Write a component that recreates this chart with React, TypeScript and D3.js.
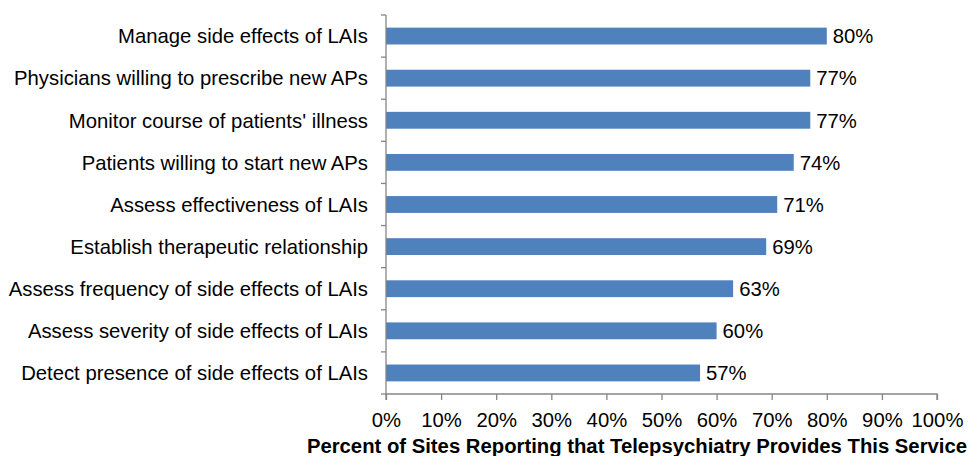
import React from "react";
import * as d3 from "d3";

const categories = [
  "Manage side effects of LAIs",
  "Physicians willing to prescribe new APs",
  "Monitor course of patients' illness",
  "Patients willing to start new APs",
  "Assess effectiveness of LAIs",
  "Establish therapeutic relationship",
  "Assess frequency of side effects of LAIs",
  "Assess severity of side effects of LAIs",
  "Detect presence of side effects of LAIs",
];
const values = [80, 77, 77, 74, 71, 69, 63, 60, 57];
const xTicks = [0, 10, 20, 30, 40, 50, 60, 70, 80, 90, 100];
const axisTitle = "Percent of Sites Reporting that Telepsychiatry Provides This Service";

export default function App() {
  const width = 969;
  const height = 456;
  const left = 386;
  const right = 937;
  const top = 15;
  const bottom = 394;
  const font = "Arial, 'Liberation Sans', sans-serif";
  const fs = "20.3px";
  const axisColor = "#868686";

  const svgRef = React.useRef<SVGSVGElement>(null);

  React.useEffect(() => {
    const svg = d3.select(svgRef.current);
    svg.selectAll("*").remove();

    const x = d3.scaleLinear().domain([0, 100]).range([left, right]);
    const y = d3.scaleBand().domain(categories).range([top, bottom]).paddingInner(0.6).paddingOuter(0.3);
    const band = d3.scaleBand().domain(categories).range([top, bottom]);

    // bars
    svg
      .selectAll(".bar")
      .data(values)
      .join("rect")
      .attr("class", "bar")
      .attr("x", x(0))
      .attr("y", (d, i) => y(categories[i])!)
      .attr("width", (d) => x(d) - x(0))
      .attr("height", y.bandwidth())
      .attr("fill", "#4F81BD");

    // value labels
    svg
      .selectAll(".val")
      .data(values)
      .join("text")
      .attr("x", (d) => x(d) + 6)
      .attr("y", (d, i) => y(categories[i])! + y.bandwidth() / 2)
      .attr("dy", "0.36em")
      .style("font-family", font)
      .style("font-size", fs)
      .attr("fill", "#000")
      .text((d) => d + "%");

    // y axis
    const yAxis = svg.append("g");
    yAxis
      .append("line")
      .attr("x1", left)
      .attr("x2", left)
      .attr("y1", top)
      .attr("y2", bottom)
      .attr("stroke", axisColor)
      .attr("stroke-width", 1.3);
    const yTickPos = categories.map((c) => band(c)!).concat([bottom]);
    yAxis
      .selectAll(".yt")
      .data(yTickPos)
      .join("line")
      .attr("x1", left - 5)
      .attr("x2", left)
      .attr("y1", (d) => d)
      .attr("y2", (d) => d)
      .attr("stroke", axisColor)
      .attr("stroke-width", 1.3);
    yAxis
      .selectAll(".yl")
      .data(categories)
      .join("text")
      .attr("x", 368)
      .attr("y", (d) => band(d)! + band.bandwidth() / 2)
      .attr("dy", "0.36em")
      .attr("text-anchor", "end")
      .style("font-family", font)
      .style("font-size", fs)
      .attr("fill", "#000")
      .text((d) => d);

    // x axis
    const xAxis = d3
      .axisBottom(x)
      .tickValues(xTicks)
      .tickSize(6)
      .tickPadding(8)
      .tickFormat((d) => d + "%");
    const gx = svg.append("g").attr("transform", `translate(0,${bottom})`).call(xAxis);
    gx.select(".domain").attr("stroke", axisColor).attr("stroke-width", 1.3).attr("d", `M${left},6V0H${right}V6`);
    gx.selectAll(".tick line").attr("stroke", axisColor).attr("stroke-width", 1.3);
    gx.selectAll(".tick text")
      .attr("y", 33)
      .attr("dy", null)
      .style("font-family", font)
      .style("font-size", fs)
      .attr("fill", "#000");

    svg
      .append("text")
      .attr("x", 967)
      .attr("y", 453)
      .attr("text-anchor", "end")
      .style("font-family", font)
      .style("font-size", fs)
      .style("font-weight", "bold")
      .attr("fill", "#000")
      .text(axisTitle);
  }, []);

  return (
    <svg
      ref={svgRef}
      width={width}
      height={height}
      style={{ position: "absolute", left: 0, top: 0, background: "#fff" }}
    />
  );
}
